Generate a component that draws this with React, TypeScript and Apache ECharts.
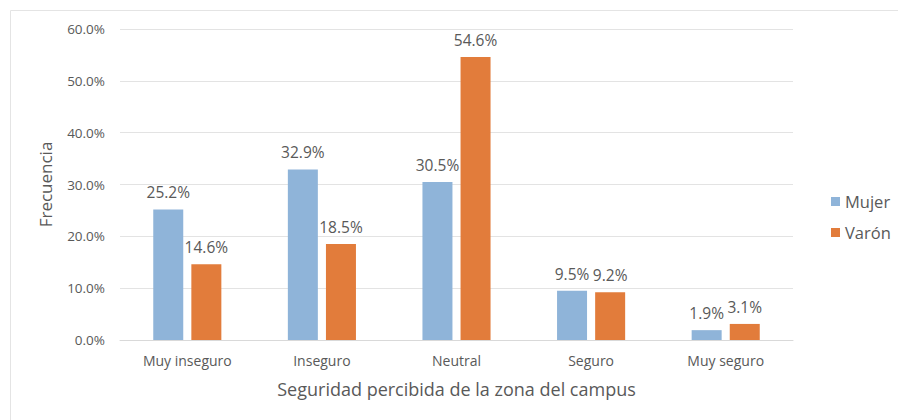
import React, { useEffect, useRef } from "react";
import * as echarts from "echarts";

const categories = ["Muy inseguro", "Inseguro", "Neutral", "Seguro", "Muy seguro"];
const mujer = [25.2, 32.9, 30.5, 9.5, 1.9];
const varon = [14.6, 18.5, 54.6, 9.2, 3.1];
const seriesNames = ["Mujer", "Varón"];

const FONT = "'Open Sans', 'Noto Sans', sans-serif";

export default function App() {
  const ref = useRef<HTMLDivElement>(null);
  useEffect(() => {
    if (!ref.current) return;
    const chart = echarts.init(ref.current, null, { renderer: "svg" });
    const labelCfg = {
      show: true,
      position: "top" as const,
      distance: 9,
      color: "#595959",
      fontSize: 15.5,
      fontFamily: FONT,
      formatter: (p: any) => Number(p.value).toFixed(1) + "%",
    };
    chart.setOption({
      animation: false,
      backgroundColor: "#ffffff",
      textStyle: { fontFamily: FONT },
      graphic: [
        {
          type: "rect",
          shape: { x: 10.5, y: 10.5, width: 900, height: 420 },
          style: { fill: "none", stroke: "#e4e4e4", lineWidth: 1 },
          silent: true,
        },
      ],
      legend: {
        orient: "vertical",
        left: 826,
        top: 188,
        itemWidth: 9,
        itemHeight: 9,
        itemGap: 14,
        icon: "rect",
        textStyle: { color: "#595959", fontSize: 16.5, fontFamily: FONT },
        data: seriesNames,
      },
      grid: { left: 120, right: 105, top: 29, bottom: 80 },
      xAxis: {
        type: "category",
        data: categories,
        name: "Seguridad percibida de la zona del campus",
        nameLocation: "middle",
        nameGap: 40,
        nameTextStyle: { color: "#595959", fontSize: 18, fontFamily: FONT },
        axisLine: { lineStyle: { color: "#d9d9d9" } },
        axisTick: { show: false },
        axisLabel: { color: "#595959", fontSize: 14, margin: 13, fontFamily: FONT },
      },
      yAxis: {
        type: "value",
        min: 0,
        max: 60,
        interval: 10,
        name: "Frecuencia",
        nameLocation: "middle",
        nameGap: 66,
        nameTextStyle: { color: "#595959", fontSize: 17, fontFamily: FONT },
        axisLine: { show: false },
        axisTick: { show: false },
        axisLabel: {
          color: "#595959",
          fontSize: 13.5,
          margin: 15,
          fontFamily: FONT,
          formatter: (v: number) => v.toFixed(1) + "%",
        },
        splitLine: { lineStyle: { color: "#e3e3e3" } },
      },
      series: [
        {
          name: seriesNames[0],
          type: "bar",
          data: mujer,
          barWidth: 30,
          barGap: "27%",
          itemStyle: { color: "#8fb4d9" },
          label: labelCfg,
        },
        {
          name: seriesNames[1],
          type: "bar",
          data: varon,
          barWidth: 30,
          barGap: "27%",
          itemStyle: { color: "#e27c3b" },
          label: labelCfg,
        },
      ],
    });
    return () => chart.dispose();
  }, []);
  return (
    <div
      ref={ref}
      style={{ position: "fixed", left: 0, top: 0, width: 898, height: 420 }}
    />
  );
}
